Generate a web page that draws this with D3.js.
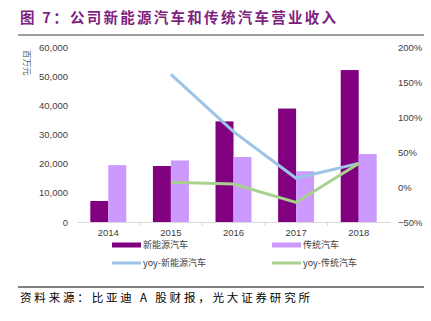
<!DOCTYPE html>
<html>
<head>
<meta charset="utf-8">
<script src="https://cdn.jsdelivr.net/npm/d3@7"></script>
<style>
  body { margin: 0; background: #fff; }
  text { font-family: "Liberation Sans", Arial, sans-serif; }
  .cjk { font-family: "Noto Sans CJK SC", sans-serif; }
</style>
</head>
<body>
<div id="chart"></div>
<script>
// chart data
var years = ["2014", "2015", "2016", "2017", "2018"];
var newEnergy = [7200, 19200, 34500, 38900, 52100];      // 百万元
var traditional = [19500, 21100, 22300, 17400, 23300];   // 百万元
var yoyNewEnergy = [null, 1.61, 0.79, 0.124, 0.337];
var yoyTraditional = [null, 0.067, 0.043, -0.22, 0.337];
var leftTicks = [0, 10000, 20000, 30000, 40000, 50000, 60000];
var rightTicks = [-0.5, 0, 0.5, 1.0, 1.5, 2.0];

var svgWidth = 431;
var svgHeight = 321;

var margin = { top: 47, right: 41, bottom: 99, left: 77 };
var width = svgWidth - margin.left - margin.right;
var height = svgHeight - margin.top - margin.bottom;

var colors = {
  newE: "#800080",
  trad: "#cc99ff",
  yoyNew: "#9dc3e6",
  yoyTrad: "#a9d18e"
};

var svg = d3.select("#chart")
  .append("svg")
  .attr("width", svgWidth)
  .attr("height", svgHeight);

// title + rules
svg.append("text")
  .attr("class", "cjk")
  .attr("x", 20)
  .attr("y", 23)
  .attr("font-size", "14.5px")
  .attr("font-weight", "bold")
  .attr("fill", "#7f1f7f")
  .attr("textLength", 316)
  .attr("lengthAdjust", "spacing")
  .text("图 7：公司新能源汽车和传统汽车营业收入");

svg.append("line")
  .attr("x1", 18).attr("x2", 424)
  .attr("y1", 35).attr("y2", 35)
  .attr("stroke", "#7f7f7f")
  .attr("stroke-width", 1.5);

svg.append("line")
  .attr("x1", 18).attr("x2", 424)
  .attr("y1", 287).attr("y2", 287)
  .attr("stroke", "#000")
  .attr("stroke-width", 1);

svg.append("text")
  .attr("class", "cjk")
  .attr("x", 20)
  .attr("y", 302)
  .attr("font-size", "11.5px")
  .attr("fill", "#000")
  .attr("textLength", 290)
  .attr("lengthAdjust", "spacing")
  .text("资料来源：比亚迪 A 股财报，光大证券研究所");

var chartGroup = svg.append("g")
  .attr("transform", `translate(${margin.left}, ${margin.top})`);

// scales
var xBand = d3.scaleBand()
  .domain(years)
  .range([0, width]);

var xInner = d3.scaleBand()
  .domain(["newE", "trad"])
  .range([0, xBand.bandwidth()])
  .paddingOuter(0.74)
  .paddingInner(0);

var yLeft = d3.scaleLinear()
  .domain([0, 60000])
  .range([height, 0]);

var yRight = d3.scaleLinear()
  .domain([-0.5, 2.0])
  .range([height, 0]);

// left axis labels
var leftAxis = d3.axisLeft(yLeft)
  .tickValues(leftTicks)
  .tickFormat(d3.format(","))
  .tickSize(0)
  .tickPadding(9);

var gl = chartGroup.append("g").call(leftAxis);
gl.select(".domain").remove();
gl.selectAll("text")
  .attr("font-size", "9.5px")
  .attr("fill", "#404040")
  .style("font-family", "Liberation Sans, Arial, sans-serif");

// right axis labels
var rightAxis = d3.axisRight(yRight)
  .tickValues(rightTicks)
  .tickFormat(d3.format(".0%"))
  .tickSize(0)
  .tickPadding(8);

var gr = chartGroup.append("g")
  .attr("transform", `translate(${width}, 0)`)
  .call(rightAxis);
gr.select(".domain").remove();
gr.selectAll("text")
  .attr("font-size", "9.5px")
  .attr("fill", "#404040")
  .style("font-family", "Liberation Sans, Arial, sans-serif");

// unit label
svg.append("text")
  .attr("class", "cjk")
  .attr("transform", "translate(24, 50) rotate(90)")
  .attr("font-size", "8.5px")
  .attr("fill", "#595959")
  .text("百万元");

// bars
var rows = years.map(function(y, i) {
  return { year: y, newE: newEnergy[i], trad: traditional[i] };
});

var groups = chartGroup.selectAll(".yr")
  .data(rows)
  .enter()
  .append("g")
  .attr("transform", d => `translate(${xBand(d.year)}, 0)`);

groups.selectAll("rect")
  .data(d => [{ key: "newE", v: d.newE }, { key: "trad", v: d.trad }])
  .enter()
  .append("rect")
  .attr("x", d => xInner(d.key))
  .attr("width", xInner.bandwidth())
  .attr("y", d => yLeft(d.v))
  .attr("height", d => height - yLeft(d.v))
  .attr("fill", d => colors[d.key]);

// x axis
var bottomAxis = d3.axisBottom(xBand)
  .tickSize(0)
  .tickPadding(7);

var gx = chartGroup.append("g")
  .attr("transform", `translate(0, ${height})`)
  .call(bottomAxis);
gx.select(".domain").attr("stroke", "#d9d9d9");
gx.selectAll("text")
  .attr("font-size", "9.5px")
  .attr("fill", "#404040")
  .style("font-family", "Liberation Sans, Arial, sans-serif");

// tick marks at band boundaries
chartGroup.append("g")
  .selectAll("line")
  .data(years.slice(1))
  .enter()
  .append("line")
  .attr("x1", d => xBand(d))
  .attr("x2", d => xBand(d))
  .attr("y1", height)
  .attr("y2", height + 4)
  .attr("stroke", "#d9d9d9");

// yoy lines
var lineGen = d3.line()
  .defined(d => d.v != null)
  .x(d => xBand(d.year) + xBand.bandwidth() / 2)
  .y(d => yRight(d.v));

chartGroup.append("path")
  .datum(years.map((y, i) => ({ year: y, v: yoyNewEnergy[i] })))
  .attr("d", lineGen)
  .attr("fill", "none")
  .attr("stroke", colors.yoyNew)
  .attr("stroke-width", 3);

chartGroup.append("path")
  .datum(years.map((y, i) => ({ year: y, v: yoyTraditional[i] })))
  .attr("d", lineGen)
  .attr("fill", "none")
  .attr("stroke", colors.yoyTrad)
  .attr("stroke-width", 3);

// legend
var legendItems = [
  { label: "新能源汽车", color: colors.newE, type: "bar", x: 112, y: 245 },
  { label: "传统汽车", color: colors.trad, type: "bar", x: 272, y: 245 },
  { label: "yoy-新能源汽车", color: colors.yoyNew, type: "line", x: 112, y: 263 },
  { label: "yoy-传统汽车", color: colors.yoyTrad, type: "line", x: 272, y: 263 }
];

var legend = svg.append("g").selectAll("g")
  .data(legendItems)
  .enter()
  .append("g")
  .attr("transform", d => `translate(${d.x}, ${d.y})`);

legend.append("rect")
  .attr("x", 0)
  .attr("width", 29)
  .attr("y", d => d.type === "bar" ? -2.5 : -1.5)
  .attr("height", d => d.type === "bar" ? 5 : 3)
  .attr("fill", d => d.color);

legend.append("text")
  .attr("class", "cjk")
  .attr("x", 31)
  .attr("y", 0)
  .attr("dy", "0.35em")
  .attr("font-size", "9px")
  .attr("fill", "#404040")
  .text(d => d.label);
</script>
</body>
</html>
